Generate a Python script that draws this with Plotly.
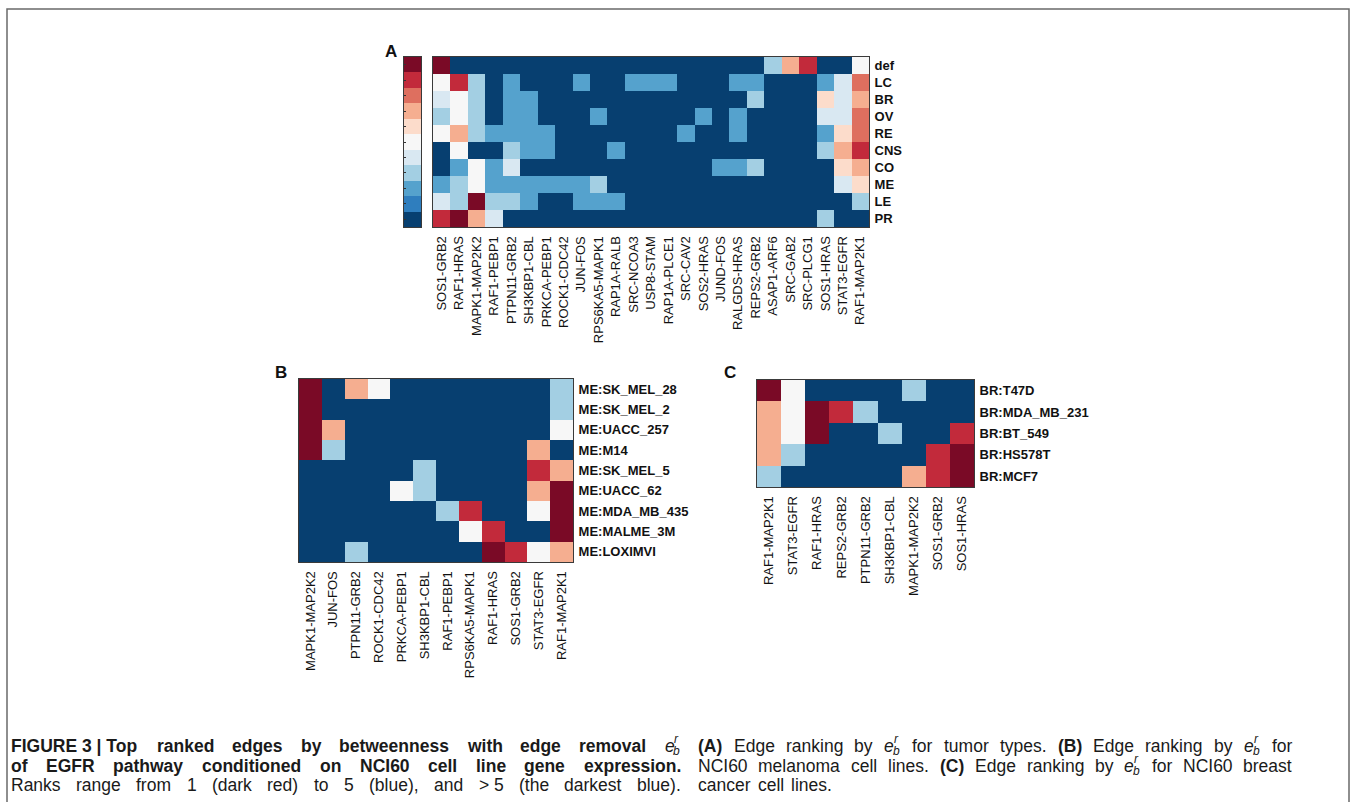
import plotly.graph_objects as go

W, H = 1356, 802

# Rank-level palette: 0 = top rank (dark red) ... 10 = darkest blue
palette = ["#7a0a26", "#c22a3b", "#de6f5f", "#f5ae90", "#fcdccb", "#f7f7f7",
           "#d9e8f2", "#a3cfe3", "#55a2cd", "#2f7ebe", "#073f70"]

# ---------- Panel A: tumour types ----------
edges_a = ["SOS1-GRB2", "RAF1-HRAS", "MAPK1-MAP2K2", "RAF1-PEBP1", "PTPN11-GRB2",
           "SH3KBP1-CBL", "PRKCA-PEBP1", "ROCK1-CDC42", "JUN-FOS", "RPS6KA5-MAPK1",
           "RAP1A-RALB", "SRC-NCOA3", "USP8-STAM", "RAP1A-PLCE1", "SRC-CAV2",
           "SOS2-HRAS", "JUND-FOS", "RALGDS-HRAS", "REPS2-GRB2", "ASAP1-ARF6",
           "SRC-GAB2", "SRC-PLCG1", "SOS1-HRAS", "STAT3-EGFR", "RAF1-MAP2K1"]
tumours = ["def", "LC", "BR", "OV", "RE", "CNS", "CO", "ME", "LE", "PR"]
rank_def = [0, 10, 10, 10, 10, 10, 10, 10, 10, 10, 10, 10, 10, 10, 10, 10, 10, 10, 10, 7, 3, 1, 10, 10, 5]
rank_lc  = [5, 1, 7, 10, 8, 10, 10, 10, 8, 10, 10, 8, 8, 8, 10, 10, 10, 8, 8, 10, 10, 10, 8, 6, 2]
rank_br  = [6, 5, 7, 10, 8, 8, 10, 10, 10, 10, 10, 10, 10, 10, 10, 10, 10, 10, 7, 10, 10, 10, 4, 6, 3]
rank_ov  = [7, 5, 7, 10, 8, 8, 10, 10, 10, 8, 10, 10, 10, 10, 10, 8, 10, 8, 10, 10, 10, 10, 6, 6, 2]
rank_re  = [5, 3, 7, 8, 8, 8, 8, 10, 10, 10, 10, 10, 10, 10, 8, 10, 10, 8, 10, 10, 10, 10, 8, 4, 2]
rank_cns = [10, 5, 10, 10, 7, 8, 8, 10, 10, 10, 8, 10, 10, 10, 10, 10, 10, 10, 10, 10, 10, 10, 7, 3, 1]
rank_co  = [10, 8, 5, 8, 6, 10, 10, 10, 10, 10, 10, 10, 10, 10, 10, 10, 8, 8, 7, 10, 10, 10, 10, 4, 3]
rank_me  = [8, 7, 5, 8, 8, 8, 8, 8, 8, 7, 10, 10, 10, 10, 10, 10, 10, 10, 10, 10, 10, 10, 10, 6, 4]
rank_le  = [6, 7, 0, 7, 7, 8, 10, 10, 8, 8, 8, 10, 10, 10, 10, 10, 10, 10, 10, 10, 10, 10, 10, 10, 7]
rank_pr  = [1, 0, 3, 6, 10, 10, 10, 10, 10, 10, 10, 10, 10, 10, 10, 10, 10, 10, 10, 10, 10, 10, 7, 10, 10]

# ---------- Panel B: melanoma cell lines ----------
edges_b = ["MAPK1-MAP2K2", "JUN-FOS", "PTPN11-GRB2", "ROCK1-CDC42", "PRKCA-PEBP1",
           "SH3KBP1-CBL", "RAF1-PEBP1", "RPS6KA5-MAPK1", "RAF1-HRAS", "SOS1-GRB2",
           "STAT3-EGFR", "RAF1-MAP2K1"]
melanoma = ["ME:SK_MEL_28", "ME:SK_MEL_2", "ME:UACC_257", "ME:M14", "ME:SK_MEL_5",
            "ME:UACC_62", "ME:MDA_MB_435", "ME:MALME_3M", "ME:LOXIMVI"]
rank_sk_mel_28 = [0, 10, 3, 5, 10, 10, 10, 10, 10, 10, 10, 7]
rank_sk_mel_2  = [0, 10, 10, 10, 10, 10, 10, 10, 10, 10, 10, 7]
rank_uacc_257  = [0, 3, 10, 10, 10, 10, 10, 10, 10, 10, 10, 5]
rank_m14       = [0, 7, 10, 10, 10, 10, 10, 10, 10, 10, 3, 10]
rank_sk_mel_5  = [10, 10, 10, 10, 10, 7, 10, 10, 10, 10, 1, 3]
rank_uacc_62   = [10, 10, 10, 10, 5, 7, 10, 10, 10, 10, 3, 0]
rank_mda_mb_435 = [10, 10, 10, 10, 10, 10, 7, 1, 10, 10, 5, 0]
rank_malme_3m  = [10, 10, 10, 10, 10, 10, 10, 5, 1, 10, 10, 0]
rank_loximvi   = [10, 10, 7, 10, 10, 10, 10, 10, 0, 1, 5, 3]

# ---------- Panel C: breast cancer cell lines ----------
edges_c = ["RAF1-MAP2K1", "STAT3-EGFR", "RAF1-HRAS", "REPS2-GRB2", "PTPN11-GRB2",
           "SH3KBP1-CBL", "MAPK1-MAP2K2", "SOS1-GRB2", "SOS1-HRAS"]
breast = ["BR:T47D", "BR:MDA_MB_231", "BR:BT_549", "BR:HS578T", "BR:MCF7"]
rank_t47d       = [0, 5, 10, 10, 10, 10, 7, 10, 10]
rank_mda_mb_231 = [3, 5, 0, 1, 7, 10, 10, 10, 10]
rank_bt_549     = [3, 5, 0, 10, 10, 7, 10, 10, 1]
rank_hs578t     = [3, 7, 10, 10, 10, 10, 10, 1, 0]
rank_mcf7       = [7, 10, 10, 10, 10, 10, 3, 1, 0]

# Colour-key levels (top = rank 1)
key_levels = list(range(11))

# Caption text: each line is a list of (text, bold) runs; "{eb}" marks e_b^r,
# "~" is a non-stretching space
caption_left = [
    [("FIGURE~3~|~Top ranked edges by betweenness with edge removal {eb}", True)],
    [("of EGFR pathway conditioned on NCI60 cell line gene expression.", True)],
    [("Ranks range from 1 (dark red) to 5 (blue), and >~5 (the darkest blue).", False)],
]
caption_right = [
    [("(A)", True), ("Edge ranking by {eb} for tumor types.", False), ("(B)", True),
     ("Edge ranking by {eb} for", False)],
    [("NCI60 melanoma cell lines.", False), ("(C)", True),
     ("Edge ranking by {eb} for NCI60 breast", False)],
    [("cancer cell lines.", False)],
]

z_a = [rank_def, rank_lc, rank_br, rank_ov, rank_re, rank_cns, rank_co, rank_me, rank_le, rank_pr]
z_b = [rank_sk_mel_28, rank_sk_mel_2, rank_uacc_257, rank_m14, rank_sk_mel_5,
       rank_uacc_62, rank_mda_mb_435, rank_malme_3m, rank_loximvi]
z_c = [rank_t47d, rank_mda_mb_231, rank_bt_549, rank_hs578t, rank_mcf7]

# stepped colourscale over levels 0..10
n = len(palette)
cscale = []
for i, c in enumerate(palette):
    cscale.append([i / n, c])
    cscale.append([(i + 1) / n, c])


def px_x(v):
    return v / W


def px_y(v):
    return 1 - v / H


FONT = "Liberation Sans, Arial, Helvetica, sans-serif"
EDGE = "#3a3a3a"


def hm(z, x, y, xa, ya):
    return go.Heatmap(z=z, x=x, y=y, xaxis=xa, yaxis=ya, colorscale=cscale,
                      zmin=-0.5, zmax=n - 0.5, showscale=False, hoverinfo="x+y+z")


fig = go.Figure()
fig.add_trace(hm(z_a, edges_a, tumours, "x", "y"))
fig.add_trace(hm([[v] for v in key_levels], ["key"], [str(v) for v in key_levels], "x2", "y2"))
fig.add_trace(hm(z_b, edges_b, melanoma, "x3", "y3"))
fig.add_trace(hm(z_c, edges_c, breast, "x4", "y4"))

xcommon = dict(tickangle=-90, ticks="", showgrid=False, zeroline=False,
               showline=True, mirror=True, linecolor=EDGE, linewidth=1,
               tickfont=dict(family=FONT, size=13, color="#111"), ticklabelstandoff=3)
ycommon = dict(side="right", autorange="reversed", ticks="", showgrid=False,
               zeroline=False, showline=True, mirror=True, linecolor=EDGE, linewidth=1,
               tickfont=dict(family=FONT, size=13, color="#111", weight=700),
               ticklabelstandoff=2)

fig.update_layout(
    width=W, height=H, margin=dict(l=0, r=0, t=0, b=0),
    paper_bgcolor="white", plot_bgcolor="white", showlegend=False,
    xaxis=dict(domain=[px_x(433), px_x(869)], anchor="y", **xcommon),
    yaxis=dict(domain=[px_y(227), px_y(57)], anchor="x", **ycommon),
    xaxis2=dict(domain=[px_x(404), px_x(421)], anchor="y2", showticklabels=False,
                ticks="", showgrid=False, zeroline=False, showline=True, mirror=True,
                linecolor=EDGE, linewidth=1),
    yaxis2=dict(domain=[px_y(227), px_y(57)], anchor="x2", autorange="reversed",
                showticklabels=False, ticks="inside", ticklen=2, tickcolor="#333",
                showgrid=False, zeroline=False, showline=True, mirror=True,
                linecolor=EDGE, linewidth=1),
    xaxis3=dict(domain=[px_x(299), px_x(573)], anchor="y3", **xcommon),
    yaxis3=dict(domain=[px_y(562), px_y(379)], anchor="x3", **ycommon),
    xaxis4=dict(domain=[px_x(757), px_x(974)], anchor="y4", **xcommon),
    yaxis4=dict(domain=[px_y(487), px_y(380)], anchor="x4", **ycommon),
)

# outer frame of the figure
fig.add_shape(type="rect", xref="paper", yref="paper",
              x0=px_x(7), x1=px_x(1349), y0=-0.05, y1=px_y(9),
              line=dict(color="#6a6a6a", width=1.5), fillcolor="rgba(0,0,0,0)")

# panel letters
for letter, (lx, ly) in {"A": (383, 40), "B": (273, 373), "C": (730, 373)}.items():
    fig.add_annotation(text=f"<b>{letter}</b>", x=px_x(lx), y=px_y(ly), xref="paper",
                       yref="paper", showarrow=False,
                       font=dict(family=FONT, size=17, color="#111"))

# ---------- justified caption ----------
# Arial / Liberation Sans advance widths (1/1000 em)
_REG = dict(zip(" ~!(),-./0123456789:;>|",
                [278, 278, 278, 333, 333, 278, 333, 278, 278] + [556] * 10 + [278, 278, 584, 260]))
_REG.update(zip("ABCDEFGHIJKLMNOPQRSTUVWXYZ",
                [667, 667, 722, 722, 667, 611, 778, 722, 278, 500, 667, 556, 833, 722, 778, 667,
                 778, 722, 667, 611, 722, 667, 944, 667, 667, 611]))
_REG.update(zip("abcdefghijklmnopqrstuvwxyz",
                [556, 556, 500, 556, 556, 278, 556, 556, 222, 222, 500, 222, 833, 556, 556, 556,
                 556, 333, 500, 278, 556, 500, 722, 500, 500, 500]))
_BOLD = dict(_REG)
_BOLD.update({"|": 280})
_BOLD.update(zip("ABCDEFGHIJKLMNOPQRSTUVWXYZ",
                 [722, 722, 722, 722, 667, 611, 778, 722, 278, 556, 722, 611, 833, 722, 778, 667,
                  778, 722, 667, 611, 722, 667, 944, 667, 667, 611]))
_BOLD.update(zip("abcdefghijklmnopqrstuvwxyz",
                 [556, 611, 556, 611, 556, 333, 611, 611, 278, 278, 556, 278, 889, 611, 611, 611,
                  611, 389, 556, 333, 611, 556, 778, 556, 556, 500]))

CAP_SIZE = 17.5
SUB_SIZE = 12
CAP_COLOR = "#1a1a1a"


def word_width(word, bold):
    if word == "{eb}":
        return CAP_SIZE * 0.556 + SUB_SIZE * 0.556
    tbl = _BOLD if bold else _REG
    return sum(tbl.get(ch, 556) for ch in word) * CAP_SIZE / 1000


def caption_word(word, bold, x, y):
    def ann(text, xx, yy, size):
        fig.add_annotation(text=text, x=px_x(xx), y=px_y(yy), xref="paper", yref="paper",
                           xanchor="left", yanchor="middle", showarrow=False, borderpad=0,
                           font=dict(family=FONT, size=size, color=CAP_COLOR))
    if word == "{eb}":
        ann("<i>e</i>", x, y, CAP_SIZE)
        ex = x + CAP_SIZE * 0.556
        ann("<i>r</i>", ex, y - 7, SUB_SIZE)
        ann("<i>b</i>", ex - 1, y + 5, SUB_SIZE)
        return
    txt = word.replace("&", "&amp;").replace("<", "&lt;").replace(">", "&gt;")
    txt = txt.replace("~", "\u00a0")
    ann(f"<b>{txt}</b>" if bold else txt, x, y, CAP_SIZE)


def caption_block(lines, x_left, x_right, y0, step, last_justified):
    for li, runs in enumerate(lines):
        words = [(w, b) for text, b in runs for w in text.split(" ")]
        widths = [word_width(w, b) for w, b in words]
        justify = li < len(lines) - 1 or last_justified
        if justify and len(words) > 1:
            gap = (x_right - x_left - sum(widths)) / (len(words) - 1)
        else:
            gap = CAP_SIZE * 0.40
        x = x_left
        y = y0 + step * li
        for (w, b), wd in zip(words, widths):
            caption_word(w, b, x, y)
            x += wd + gap


caption_block(caption_left, 10, 680, 746, 19.5, True)
caption_block(caption_right, 697, 1291, 746, 19.5, False)

fig.write_html("out.html")
